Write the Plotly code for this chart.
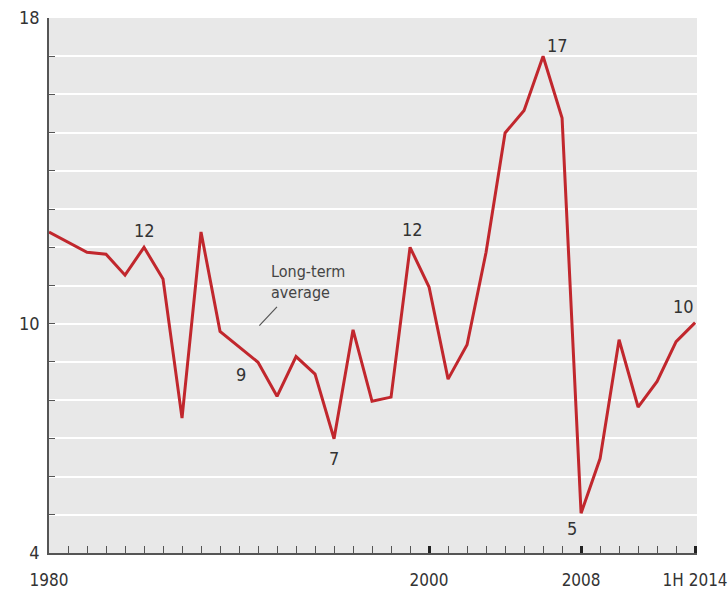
import plotly.graph_objects as go

years = list(range(1980, 2015))
values = [12.4, 12.13, 11.87, 11.82, 11.27, 12.0, 11.17, 7.53, 12.4, 9.8,
          9.4, 8.99, 8.1, 9.14, 8.68, 6.99, 9.84, 7.97, 8.08, 12.0,
          10.96, 8.55, 9.45, 11.87, 14.99, 15.58, 17.0, 15.38, 5.04, 6.47,
          9.58, 7.82, 8.49, 9.53, 10.03]
long_term_average = 10
x_tick_vals = [1980, 2000, 2008, 2014]
x_tick_text = ["1980", "2000", "2008", "1H 2014"]
y_label_vals = [4, 10, 18]
label_years = [1985, 1991, 1995, 1999, 2006, 2008, 2014]
label_text = ["12", "9", "7", "12", "17", "5", "10"]

FONT = "DejaVu Sans Condensed, sans-serif"
RED = "#c1272d"
TXT = "#333333"

fig = go.Figure()
fig.add_trace(go.Scatter(x=years, y=values, mode="lines",
                         line=dict(color=RED, width=3), hoverinfo="skip"))

# average line
fig.add_shape(type="line", xref="paper", x0=0, x1=1, yref="y",
              y0=long_term_average, y1=long_term_average,
              line=dict(color="#b5b5b5", width=1.2, dash="dash"), layer="below")

# value labels
offsets = [(0, -17), (-17, 12), (0, 20), (2, -18), (14, -11), (-9, 15), (-12, -16)]
for (yr, t), (dx, dy) in zip(zip(label_years, label_text), offsets):
    v = values[years.index(yr)]
    fig.add_annotation(x=yr, y=v, text=t, showarrow=False, xshift=dx, yshift=-dy,
                       font=dict(family=FONT, size=18, color=TXT))

# long-term average note
fig.add_annotation(x=1991.07, y=9.95, ax=1992.07, ay=10.48,
                   axref="x", ayref="y", xref="x", yref="y",
                   showarrow=True, arrowhead=0, arrowwidth=1.2, arrowcolor="#555",
                   text="")
fig.add_annotation(x=1991.6, y=11.1, xanchor="left", yanchor="middle",
                   text="Long-term<br>average", showarrow=False, align="left",
                   font=dict(family=FONT, size=16, color="#444"))

fig.update_layout(
    width=728, height=594,
    margin=dict(l=49, r=31, t=18, b=41),
    paper_bgcolor="white", plot_bgcolor="#e8e8e8",
    showlegend=False,
    font=dict(family=FONT, color=TXT),
)
fig.update_xaxes(range=[1980, 2014.1], tickvals=x_tick_vals, ticktext=x_tick_text,
                 ticks="inside", ticklen=7, tickwidth=3, tickcolor="#222",
                 minor=dict(dtick=1, tick0=1980, ticks="inside", ticklen=7, tickwidth=1,
                            tickcolor="#555", showgrid=False),
                 showgrid=False, showline=True, linecolor="#555", linewidth=1.5,
                 tickfont=dict(family=FONT, size=17, color=TXT), ticklabelstandoff=11,
                 ticklabeloverflow="allow", automargin=False,
                 zeroline=False)
fig.update_yaxes(range=[4, 18], tickvals=list(range(4, 19)),
                 ticktext=[str(v) if v in y_label_vals else "" for v in range(4, 19)],
                 ticks="inside", ticklen=6, tickwidth=1, tickcolor="#555",
                 showgrid=True, gridcolor="white", gridwidth=2,
                 showline=True, linecolor="#555", linewidth=1.5,
                 tickfont=dict(family=FONT, size=18, color=TXT), ticklabelstandoff=4,
                 automargin=False, zeroline=False)

fig.write_html("out.html")
